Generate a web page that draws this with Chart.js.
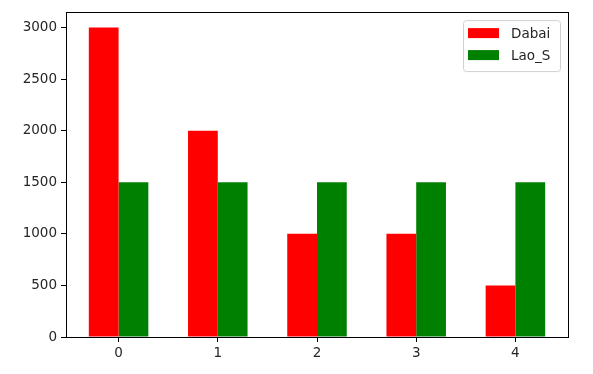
<!DOCTYPE html>
<html>
<head>
<meta charset="utf-8">
<script src="https://cdn.jsdelivr.net/npm/chart.js@4"></script>
<style>
  html, body { margin: 0; padding: 0; background: #fff; }
  #wrap { width: 593px; height: 374px; position: relative; }
</style>
</head>
<body>
<div id="wrap"><canvas id="chart"></canvas></div>
<script>
const CATEGORIES = [0, 1, 2, 3, 4]
const DABAI = [3000, 2000, 1000, 1000, 500]
const LAO_S = [1500, 1500, 1500, 1500, 1500]
const Y_TICKS = [0, 500, 1000, 1500, 2000, 2500, 3000]

const FONT = { family: 'DejaVu Sans', size: 13.5 }
const TEXT = '#262626'

// matplotlib style full frame around the plot area
const framePlugin = {
  id: 'frame',
  afterDatasetsDraw(chart) {
    const { ctx, chartArea: a } = chart
    ctx.save()
    ctx.strokeStyle = '#000'
    ctx.lineWidth = 1
    ctx.strokeRect(Math.round(a.left) + 0.5, Math.round(a.top) + 0.5,
      Math.round(a.right - a.left), Math.round(a.bottom - a.top))
    ctx.restore()
  },
}

// legend box in the upper right corner, inside the axes
const legendPlugin = {
  id: 'mplLegend',
  afterDraw(chart) {
    const { ctx, chartArea: a } = chart
    const sets = chart.data.datasets
    const w = 97, rowH = 22
    const h = sets.length * rowH + 7
    const x = a.right - 8 - w, y = a.top + 8
    ctx.save()
    ctx.fillStyle = 'rgba(255,255,255,0.8)'
    ctx.strokeStyle = '#d0d0d0'
    ctx.lineWidth = 1
    ctx.beginPath()
    ctx.roundRect(x + 0.5, y + 0.5, w, h, 3)
    ctx.fill()
    ctx.stroke()
    ctx.font = `${FONT.size}px ${FONT.family}`
    ctx.textBaseline = 'middle'
    sets.forEach((ds, i) => {
      const cy = y + 13 + i * rowH
      ctx.fillStyle = ds.backgroundColor
      ctx.fillRect(x + 5, cy - 5, 31, 10)
      ctx.fillStyle = TEXT
      ctx.fillText(ds.label, x + 48, cy + 1)
    })
    ctx.restore()
  },
}

new Chart(document.getElementById('chart'), {
  type: 'bar',
  data: {
    datasets: [
      {
        label: 'Dabai',
        data: CATEGORIES.map((c, i) => ({ x: c, y: DABAI[i] })),
        backgroundColor: '#ff0000',
      },
      {
        label: 'Lao_S',
        data: CATEGORIES.map((c, i) => ({ x: c, y: LAO_S[i] })),
        backgroundColor: '#008000',
      },
    ],
  },
  options: {
    animation: false,
    responsive: true,
    maintainAspectRatio: false,
    layout: { padding: { top: 10, right: 25, left: 0, bottom: 0 } },
    datasets: { bar: { categoryPercentage: 0.6, barPercentage: 1.0, borderWidth: 0 } },
    plugins: { legend: { display: false }, tooltip: { enabled: false } },
    scales: {
      x: {
        type: 'linear',
        min: -0.53,
        max: 4.53,
        offset: false,
        afterBuildTicks: s => { s.ticks = CATEGORIES.map(v => ({ value: v })) },
        afterFit: s => { s.height = 37 },
        grid: { offset: false, drawOnChartArea: false, drawTicks: true, tickLength: 5, color: '#000' },
        border: { display: true, color: '#000' },
        ticks: { color: TEXT, font: FONT, padding: 3, maxRotation: 0, callback: v => String(v) },
      },
      y: {
        min: 0,
        max: 3150,
        afterBuildTicks: s => { s.ticks = Y_TICKS.map(v => ({ value: v })) },
        afterFit: s => { s.width = 66 },
        grid: { drawOnChartArea: false, drawTicks: true, tickLength: 5, color: '#000' },
        border: { display: true, color: '#000' },
        ticks: { color: TEXT, font: FONT, padding: 4, callback: v => String(v) },
      },
    },
  },
  plugins: [framePlugin, legendPlugin],
})
</script>
</body>
</html>
